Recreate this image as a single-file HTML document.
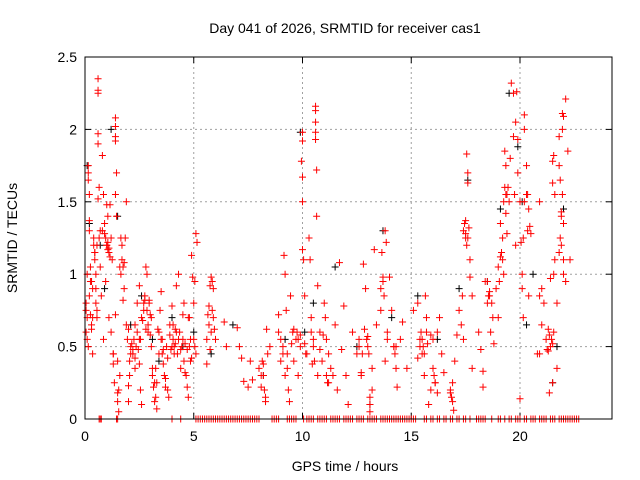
<!DOCTYPE html>
<html><head><meta charset="utf-8">
<style>
html,body{margin:0;padding:0;background:#fff;}
svg{display:block;font-family:"Liberation Sans",sans-serif;}
</style></head>
<body>
<svg id="chart" width="640" height="480">
<rect x="0" y="0" width="640" height="480" fill="#fff"/>
<g id="grid"></g>
<g id="ticks"></g>
<g id="marks"></g>
<rect x="85" y="57" width="527" height="362" fill="none" stroke="#000" stroke-width="1"/>
<text x="345" y="33" font-size="14" text-anchor="middle">Day 041 of 2026, SRMTID for receiver cas1</text>
<text x="345" y="471" font-size="14" text-anchor="middle">GPS time / hours</text>
<text x="17" y="238" font-size="14" text-anchor="middle" transform="rotate(-90 17 238)">SRMTID / TECUs</text>
</svg>
<script>
const xTicks=[0,5,10,15,20];
const yTicks=[0,0.5,1,1.5,2,2.5];
const yTickLabels=["0","0.5","1","1.5","2","2.5"];
const redT=[0.05,0.05,0.1,0.1,0.15,0.15,0.15,0.15,0.2,0.2,0.2,0.25,0.25,0.3,0.3,0.35,0.35,0.4,0.4,0.45,0.45,0.5,0.5,0.55,0.55,0.6,0.6,0.6,0.6,0.6,0.65,0.6,0.7,0.75,0.8,0.85,0.85,0.9,0.95,0.95,1.0,1.0,1.05,1.05,1.1,1.1,1.15,1.2,1.2,1.3,1.3,1.35,1.4,1.4,1.4,1.4,1.45,1.4,1.45,1.5,1.5,1.55,1.6,1.65,1.7,1.7,1.75,1.8,1.85,1.9,1.9,1.95,2.0,2.0,2.05,2.1,2.2,2.3,2.3,2.4,2.5,2.5,2.55,2.6,2.6,2.7,2.75,2.8,2.85,2.9,2.95,3.0,3.05,3.1,3.2,3.25,3.3,3.35,3.4,3.5,3.55,3.6,3.7,3.75,3.8,3.85,3.9,4.0,4.05,4.1,4.15,4.2,4.25,4.3,4.35,4.4,4.5,4.55,4.6,4.65,4.7,4.75,4.8,4.85,4.9,4.95,5.0,5.05,5.1,5.15,5.1,
5.6,5.6,5.7,5.75,5.8,5.85,5.9,5.95,6.0,6.4,6.5,7.0,7.1,7.2,7.3,7.5,7.6,7.7,8.0,8.1,8.15,8.2,8.3,8.35,8.4,8.5,8.9,9.0,9.1,9.15,9.2,9.25,9.3,9.35,9.4,9.45,9.55,9.6,9.8,9.9,9.95,10.0,10.0,10.0,10.0,10.0,10.05,10.1,10.15,10.3,10.35,10.4,10.5,10.55,10.6,10.6,10.6,10.6,10.6,10.65,10.65,10.7,10.8,10.9,11.0,11.1,11.1,11.2,11.3,11.5,11.6,11.7,11.8,11.9,12.0,12.1,12.3,12.5,12.6,12.7,12.8,12.9,13.0,13.1,13.1,13.2,13.3,13.4,13.6,13.65,13.7,13.75,13.8,13.85,13.9,14.0,14.1,14.2,14.3,14.35,14.5,14.6,14.8,15.1,15.3,15.4,15.5,15.55,15.6,15.65,15.7,15.8,15.9,16.0,16.1,16.2,16.3,16.4,16.5,16.8,16.9,16.95,17.0,17.1,17.3,17.4,17.5,17.5,17.55,17.6,17.6,17.65,17.7,17.7,17.8,17.8,18.1,18.2,18.3,18.3,18.5,18.6,18.7,18.8,19.0,19.1,19.2,19.25,19.3,19.35,19.4,19.3,19.35,19.35,19.6,19.7,19.8,19.9,19.9,20.0,20.05,20.1,20.15,20.0,19.85,20.5,20.2,20.2,20.3,20.35,20.4,20.45,20.9,21.0,20.8,21.35,21.5,21.5,21.55,20.9,21.4,21.3,21.5,21.9,21.95,22.0,21.55,21.6,21.7,21.9,22.0,22.1,22.2,21.8,21.8,21.85,21.9,21.95,21.95,22.0,22.0,22.1,22.3,22.4,22.5];
const redV=[0.8,0.75,0.7,0.55,0.5,1.75,1.7,1.65,1.55,1.37,1.3,1.05,0.95,0.65,0.62,0.45,0.9,1.25,1.2,1.15,1.1,1.0,0.8,0.75,0.7,2.35,2.27,2.25,1.97,1.9,1.6,1.52,1.3,0.85,1.82,1.55,0.55,1.28,1.25,0.95,1.2,1.48,1.4,1.17,1.15,0.7,1.48,1.25,0.6,0.45,0.38,0.25,2.08,2.02,1.95,1.92,1.7,1.55,1.4,0.18,0.12,0.05,0.3,1.25,1.2,1.1,1.05,0.9,1.25,1.5,0.65,0.55,0.23,0.12,0.4,0.5,0.45,0.35,0.65,0.8,0.92,0.55,0.2,0.7,0.1,0.75,0.85,1.05,1.0,0.6,0.82,0.72,0.5,0.35,0.25,0.15,0.07,0.62,0.45,0.88,0.55,0.38,0.28,0.5,0.2,0.15,0.65,0.78,0.55,0.5,0.62,0.92,0.45,1.0,0.6,0.35,0.72,0.8,0.52,0.3,0.22,0.15,0.7,0.4,1.13,0.98,0.55,0.95,1.28,1.22,0.45,
0.38,0.55,0.65,0.92,0.98,0.75,0.7,0.62,0.55,0.67,0.5,0.63,0.5,0.42,0.26,0.22,0.4,0.27,0.35,0.22,0.4,0.3,0.15,0.62,0.45,0.5,0.72,0.55,0.45,1.13,1.0,0.75,0.35,0.2,0.12,0.85,0.6,0.4,0.55,0.5,1.78,1.67,1.5,1.98,1.92,1.17,1.1,0.85,0.45,1.25,1.1,0.7,0.5,0.4,2.16,2.13,2.05,1.98,1.93,1.72,1.4,0.92,0.6,0.4,0.8,0.55,0.3,0.25,0.35,0.65,0.2,1.08,0.48,0.78,0.3,0.1,0.6,0.45,0.5,0.3,1.07,0.9,0.57,0.1,0.05,0.2,1.17,0.65,0.75,1.15,0.95,0.85,1.3,1.22,0.6,0.98,0.75,0.5,0.35,0.22,0.55,0.67,0.35,0.75,0.8,0.55,0.45,0.5,0.3,0.85,0.6,0.1,0.2,0.35,0.25,0.18,0.7,0.45,0.32,0.18,0.12,0.06,0.4,0.58,0.65,0.55,1.37,1.25,1.83,1.7,1.63,1.32,1.1,0.98,0.85,0.35,0.6,0.48,0.33,0.22,0.95,0.85,0.8,0.52,0.7,1.35,1.1,1.0,1.6,1.42,1.28,1.85,1.75,1.55,2.32,2.25,2.05,1.93,1.7,1.5,1.22,0.9,0.7,0.14,2.26,1.28,2.1,2.0,1.75,1.55,1.45,1.33,0.85,0.65,0.45,0.18,1.78,1.63,0.6,0.45,0.97,0.47,0.25,1.43,2.11,2.09,1.82,1.55,0.8,1.2,1.0,2.21,1.85,1.75,1.95,1.65,1.4,2.0,1.55,1.1,1.35,0.95,1.1];
const redT2=[0.05,0.1,0.2,0.25,0.3,0.35,0.45,0.5,0.55,0.65,0.7,0.8,0.9,1.0,1.05,1.1,1.15,1.25,1.3,1.4,1.5,1.55,1.6,1.65,1.75,1.8,2.0,2.05,2.1,2.15,2.2,2.25,2.3,2.35,2.4,2.45,2.5,2.55,2.65,2.7,2.75,2.8,2.85,2.9,2.95,3.0,3.05,3.1,3.15,3.2,3.25,3.3,3.4,3.45,3.5,3.55,3.6,3.65,3.7,3.8,3.9,3.95,4.0,4.05,4.1,4.15,4.2,4.3,4.4,4.45,4.5,4.55,4.6,4.7,4.75,4.8,4.85,4.9,5.0,5.05,
5.65,5.7,5.75,5.8,5.85,5.9,8.1,8.2,8.25,8.3,8.9,9.0,9.1,9.2,9.3,9.5,9.6,9.7,9.75,9.8,9.9,10.1,10.2,10.4,10.45,10.5,10.7,10.8,10.95,11.05,11.15,11.2,11.4,12.6,12.7,12.75,12.85,12.95,13.0,13.05,13.1,13.2,13.6,13.7,13.8,13.9,14.2,14.25,14.3,15.3,15.4,15.45,15.5,15.6,15.7,15.75,15.9,16.0,16.05,16.1,16.2,16.8,16.85,16.9,17.2,17.35,17.4,17.45,17.5,17.55,17.6,18.4,18.5,18.55,18.6,18.65,18.75,18.9,19.0,19.05,19.1,19.15,19.2,19.25,19.4,19.45,19.5,19.55,19.7,19.75,19.8,20.1,20.15,20.2,20.3,20.35,20.4,20.9,21.0,21.1,21.2,21.25,21.3,21.35,21.4,21.45,21.5,21.55,21.6,21.7,21.8,21.85];
const redV2=[0.6,1.0,0.85,0.72,0.95,0.7,1.15,0.9,1.2,1.25,1.05,1.3,1.35,1.2,1.22,1.18,1.12,1.1,0.45,0.72,0.4,0.2,1.05,1.0,0.82,1.08,0.62,0.3,0.45,0.52,0.48,0.55,0.42,0.5,0.6,0.48,0.38,0.55,0.68,0.8,0.82,0.62,0.75,0.65,0.8,0.58,0.7,0.3,0.22,0.12,0.35,0.25,0.6,0.75,0.55,0.45,0.48,0.3,0.22,0.42,0.58,0.48,0.5,0.65,0.45,0.52,0.6,0.55,0.48,0.5,0.55,0.4,0.32,0.48,0.7,0.5,0.55,0.42,0.8,0.5,
0.72,0.78,0.48,0.6,0.95,0.9,0.3,0.38,0.2,0.12,0.6,0.4,0.5,0.3,0.45,0.52,0.62,0.55,0.6,0.3,0.58,0.52,0.45,0.6,0.38,0.55,0.3,0.48,0.58,0.7,0.25,0.45,0.3,0.55,0.32,0.45,0.62,0.55,0.5,0.45,0.15,0.35,0.9,0.98,0.4,0.55,0.5,0.45,0.5,0.42,0.5,0.6,0.55,0.45,0.7,0.52,0.58,0.55,0.3,0.25,0.6,0.2,0.15,0.25,0.75,0.85,1.3,1.35,1.28,1.2,1.25,0.95,0.8,0.85,0.88,0.6,0.7,0.9,1.05,0.95,1.12,1.15,1.25,1.5,1.55,1.6,1.5,1.8,1.95,1.55,1.2,1.0,1.25,1.5,1.55,1.3,0.85,1.5,0.9,0.8,0.55,0.48,0.62,0.58,0.5,0.55,0.52,1.0,1.1,0.35,1.15,1.25,1.9];
const blackT=[0.1,0.2,0.3,0.7,0.9,1.2,1.5,2.1,2.6,3.1,3.4,4.0,4.5,5.0,5.8,6.8,8.2,9.2,9.9,10.1,10.5,11.5,12.5,13.1,13.7,14.1,15.3,16.2,17.2,17.6,18.5,19.1,19.5,19.9,20.1,20.3,20.6,21.5,21.7,22.0];
const blackV=[1.75,1.35,0.95,1.2,0.9,2.0,1.4,0.65,0.85,0.55,0.4,0.7,0.5,0.6,0.45,0.65,0.3,0.55,1.98,0.6,0.8,1.05,0.5,0.1,1.3,0.7,0.85,0.55,0.9,1.65,0.95,1.45,2.25,1.88,1.5,0.65,1.0,0.25,0.5,1.45];
const zeroT=[0.65,0.7,0.75,1.45,1.5,4.0,4.4,5.1,5.2,5.3,5.4,5.5,5.6,5.7,5.8,5.9,6.0,6.1,6.2,6.3,6.4,6.5,6.6,6.7,6.8,6.9,7.0,7.1,7.2,7.3,7.4,7.5,7.6,7.7,7.8,7.9,8.0,8.6,8.7,8.8,8.9,9.3,9.4,9.5,9.6,9.7,10.05,10.2,10.3,10.4,10.5,10.7,10.8,10.9,11.0,11.1,11.3,11.4,11.5,11.6,11.7,11.9,12.0,12.1,12.2,12.3,12.5,12.6,12.7,12.8,13.0,13.1,13.2,13.3,13.4,13.6,13.7,13.8,13.9,14.0,14.1,14.2,14.3,14.4,14.5,14.6,14.7,14.8,14.9,15.0,15.1,15.2,15.6,15.7,15.9,16.0,16.2,16.3,16.5,16.6,16.8,16.9,17.1,17.2,17.4,17.5,17.7,18.0,18.1,18.2,18.3,18.4,18.7,19.0,19.1,19.3,19.5,19.6,19.8,19.9,20.0,20.2,20.3,20.5,20.6,20.7,20.9,21.0,21.1,21.2,21.4,21.5,21.6,21.8,21.9,22.0,22.1,22.2,22.3,22.4,22.5,22.6,22.7];

const X0=85,X1=612,XMAX=(612-85)/21.75,Y0=419,Y1=57,YMAX=2.5;
const sx=t=>X0+t/XMAX*(X1-X0);
const sy=v=>Y0-v/YMAX*(Y0-Y1);
const NS="http://www.w3.org/2000/svg";
const grid=document.getElementById('grid'),ticks=document.getElementById('ticks'),marks=document.getElementById('marks');
function mk(tag,attrs,parent){const e=document.createElementNS(NS,tag);for(const k in attrs)e.setAttribute(k,attrs[k]);parent.appendChild(e);return e;}
xTicks.forEach(t=>{
  const x=sx(t);
  if(t>0){const g=mk('line',{x1:x,x2:x,y1:Y1,y2:Y0,stroke:'#a0a0a0','stroke-dasharray':'2,3'},grid);
  
  }
  mk('line',{x1:x,x2:x,y1:Y0,y2:Y0-6,stroke:'#000'},ticks);
  mk('line',{x1:x,x2:x,y1:Y1,y2:Y1+6,stroke:'#000'},ticks);
  const l=mk('text',{x:x,y:Y0+22,'font-size':14,'text-anchor':'middle'},ticks);l.textContent=t;
  
  
});
yTicks.forEach((v,i)=>{
  const y=sy(v);
  if(v>0&&v<YMAX){const g=mk('line',{x1:X0,x2:X1,y1:y,y2:y,stroke:'#a0a0a0','stroke-dasharray':'2,3'},grid);
  
  }
  mk('line',{x1:X0,x2:X0+6,y1:y,y2:y,stroke:'#000'},ticks);
  mk('line',{x1:X1,x2:X1-6,y1:y,y2:y,stroke:'#000'},ticks);
  const l=mk('text',{x:X0-8,y:y+5,'font-size':14,'text-anchor':'end'},ticks);l.textContent=yTickLabels[i];
  
  
});
function plus(t,v,col,name){
  const x=sx(t),y=sy(v);
  const p=mk('path',{d:`M${x-3.5},${y}H${x+3.5}M${x},${y-3.5}V${y+3.5}`,stroke:col,'stroke-width':1,fill:'none'},marks);
  
  
}
blackT.forEach((t,i)=>plus(t,blackV[i],'#000','black-point'));
redT.forEach((t,i)=>plus(t,redV[i],'#f00','red-point'));
redT2.forEach((t,i)=>plus(t,redV2[i],'#f00','red-point'));
zeroT.forEach(t=>plus(t,0,'#f00','zero-point'));
</script>
</body></html>
